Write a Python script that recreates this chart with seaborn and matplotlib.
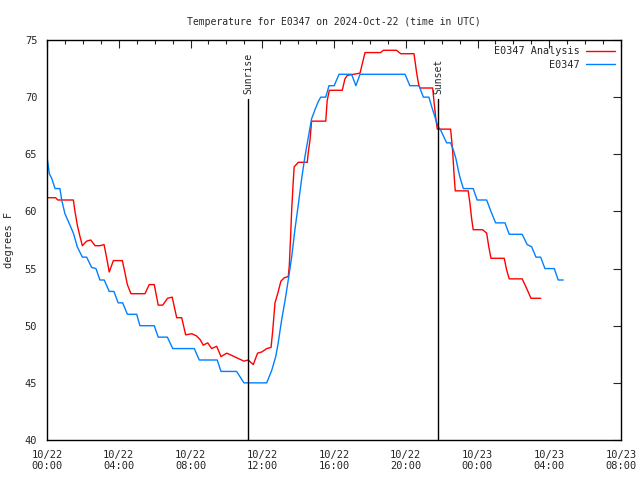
import pandas as pd
import numpy as np
import seaborn as sns
import matplotlib
matplotlib.use("Agg")
import matplotlib.pyplot as plt
import matplotlib.dates as mdates

# hours after 2024-10-22 00:00 UTC and temperatures (F)
obs_hours = [0.0, 0.13, 0.26, 0.45, 0.72, 0.82, 1.0, 1.28, 1.47, 1.69, 1.97, 2.21, 2.49, 2.73,
             2.95, 3.19, 3.47, 3.73, 3.97, 4.22, 4.48, 5.0, 5.18, 5.98, 6.2, 6.71, 7.01, 8.21,
             8.49, 9.49, 9.7, 10.57, 10.98, 12.25, 12.53, 12.75, 12.89, 13.08, 13.27, 13.45,
             13.64, 13.82, 14.01, 14.2, 14.38, 14.48, 14.66, 14.75, 14.94, 15.12, 15.26, 15.54,
             15.72, 16.01, 16.28, 16.98, 17.22, 17.45, 19.96, 20.23, 20.74, 20.98, 21.29, 21.44,
             21.68, 21.81, 21.95, 22.28, 22.5, 22.65, 22.8, 22.93, 23.02, 23.21, 23.76, 23.98,
             24.51, 24.75, 25.01, 25.53, 25.77, 26.49, 26.77, 27.02, 27.26, 27.52, 27.76, 28.28,
             28.5, 28.78]
obs_temps = [64.8, 63.3, 62.9, 62.0, 62.0, 61.0, 59.8, 58.8, 58.1, 56.9, 56.0, 56.0, 55.1, 55.0,
             54.0, 54.0, 53.0, 53.0, 52.0, 52.0, 51.0, 51.0, 50.0, 50.0, 49.0, 49.0, 48.0, 48.0,
             47.0, 47.0, 46.0, 46.0, 45.0, 45.0, 46.1, 47.3, 48.5, 50.5, 52.2, 54.0,
             56.0, 58.4, 60.6, 62.9, 64.8, 65.7, 67.3, 68.1, 68.9, 69.6, 70.0, 70.0,
             71.0, 71.0, 72.0, 72.0, 71.0, 72.0, 72.0, 71.0, 71.0, 70.0, 70.0, 69.2,
             68.0, 67.4, 67.1, 66.0, 66.0, 65.4, 64.6, 63.6, 63.0, 62.0, 62.0, 61.0,
             61.0, 60.0, 59.0, 59.0, 58.0, 58.0, 57.1, 56.9, 56.0, 56.0, 55.0, 55.0,
             54.0, 54.0]

ana_hours = [0.0, 0.48, 0.6, 1.47, 1.56, 1.69, 1.84, 1.97, 2.21, 2.44, 2.68, 2.95, 3.18, 3.33,
             3.47, 3.7, 4.2, 4.35, 4.48, 4.68, 5.46, 5.7, 5.98, 6.2, 6.45, 6.72, 6.98, 7.23,
             7.51, 7.73, 8.07, 8.34, 8.53, 8.71, 8.96, 9.18, 9.46, 9.7, 10.02, 10.3, 10.57,
             10.98, 11.22, 11.5, 11.74, 11.97, 12.25, 12.49, 12.58, 12.71, 12.86, 13.04, 13.23,
             13.45, 13.51, 13.58, 13.64, 13.73, 13.78, 14.01, 14.51, 14.56, 14.66, 14.75, 15.54,
             15.62, 15.74, 16.46, 16.61, 16.74, 17.45, 17.73, 18.6, 18.75, 19.49, 19.72, 20.46,
             20.61, 20.72, 20.79, 21.5, 21.57, 21.67, 21.76, 22.5, 22.61, 22.69, 22.76, 23.48,
             23.58, 23.67, 23.76, 24.28, 24.51, 24.63, 24.75, 25.49, 25.62, 25.77, 26.49, 26.73,
             26.98, 27.52]
ana_temps = [61.2, 61.2, 61.0, 61.0, 60.0, 58.8, 57.8, 57.0, 57.4, 57.5, 57.0, 57.0, 57.1, 55.9,
             54.7, 55.7, 55.7, 54.6, 53.6, 52.8, 52.8, 53.6, 53.6, 51.8, 51.8, 52.4, 52.5, 50.7,
             50.7, 49.2, 49.3, 49.1, 48.8, 48.3, 48.5, 48.0, 48.2, 47.3, 47.6, 47.4, 47.2,
             46.9, 47.0, 46.6, 47.6, 47.7, 48.0, 48.1, 49.5, 52.0, 52.8, 53.9, 54.2,
             54.3, 55.3, 57.8, 60.1, 62.7, 63.9, 64.3, 64.3, 65.1, 66.2, 67.9, 67.9,
             69.7, 70.6, 70.6, 71.6, 71.9, 72.1, 73.9, 73.9, 74.1, 74.1, 73.8, 73.8,
             72.1, 71.1, 70.8, 70.8, 69.7, 68.2, 67.2, 67.2, 65.4, 63.3, 61.8, 61.8,
             60.7, 59.4, 58.4, 58.4, 58.1, 56.9, 55.9, 55.9, 54.9, 54.1, 54.1, 53.3,
             52.4, 52.4]

sun_events = ["Sunrise", "Sunset"]
sun_hours = [11.2, 21.8]

start = pd.Timestamp("2024-10-22 00:00")


def to_time(hours):
    return start + pd.to_timedelta(np.array(hours), unit="h")


ana = pd.DataFrame({"time": to_time(ana_hours), "temp": ana_temps, "series": "E0347 Analysis"})
obs = pd.DataFrame({"time": to_time(obs_hours), "temp": obs_temps, "series": "E0347"})
df = pd.concat([ana, obs], ignore_index=True)

sns.set_style("white")
plt.rcParams["font.family"] = ["DejaVu Sans Mono"]

fig = plt.figure(figsize=(6.4, 4.8), dpi=100)
ax = fig.add_axes([47 / 640, 40 / 480, 574 / 640, 400 / 480])

sns.lineplot(data=df, x="time", y="temp", hue="series", estimator=None,
             palette={"E0347 Analysis": "#ff0000", "E0347": "#0080ff"},
             linewidth=1.0, ax=ax)

for name, h in zip(sun_events, sun_hours):
    t = start + pd.Timedelta(hours=h)
    ax.plot([t, t], [40, 69.85], color="black", linewidth=1.0)
    ax.text(t, 70.3, name, rotation=90, ha="center", va="bottom", fontsize=7)

ax.set_xlim(start, start + pd.Timedelta(hours=32))
ax.set_ylim(40, 75)
ax.xaxis.set_major_locator(mdates.HourLocator(byhour=range(0, 24, 4)))
ax.xaxis.set_minor_locator(mdates.HourLocator())
ax.xaxis.set_major_formatter(mdates.DateFormatter("%m/%d\n%H:%M"))
ax.set_yticks(range(40, 76, 5))
ax.tick_params(which="both", direction="in", top=True, right=True, labelsize=7.5, width=0.8)
ax.tick_params(which="major", length=6, pad=7)
ax.tick_params(which="minor", length=3)
for s in ax.spines.values():
    s.set_color("black")
    s.set_linewidth(1.0)

ax.set_xlabel("")
ax.set_ylabel("degrees F", fontsize=7.5, labelpad=8)
ax.set_title("Temperature for E0347 on 2024-Oct-22 (time in UTC)", fontsize=7, pad=11)

ax.legend(loc="upper right", frameon=False, markerfirst=False, fontsize=7.3,
          handlelength=2.9, borderaxespad=0.5, borderpad=0.1, labelspacing=0.35,
          handletextpad=0.6, title=None)

fig.savefig("out.png", dpi=100)
